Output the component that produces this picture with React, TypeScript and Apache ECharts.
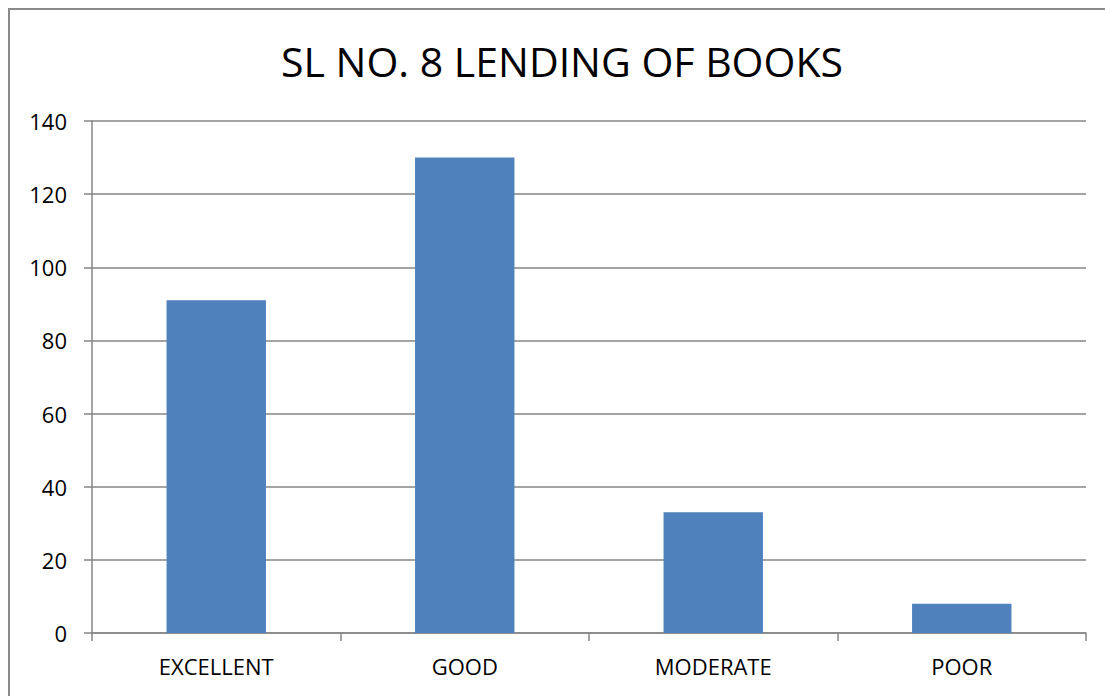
import React, { useEffect, useRef } from "react";
import * as echarts from "echarts";

const titleText = "SL NO. 8 LENDING OF BOOKS";
const categories = ["EXCELLENT", "GOOD", "MODERATE", "POOR"];
const values = [91, 130, 33, 8];
const yMin = 0;
const yMax = 140;
const yStep = 20;

export default function App() {
  const ref = useRef<HTMLDivElement>(null);
  useEffect(() => {
    if (!ref.current) return;
    const chart = echarts.init(ref.current, null, { renderer: "svg" });
    const font = "'Open Sans', 'Liberation Sans', sans-serif";
    chart.setOption({
      animation: false,
      backgroundColor: "#ffffff",
      textStyle: { fontFamily: font },
      graphic: [
        {
          type: "rect",
          shape: { x: 9, y: 9, width: 1200, height: 800 },
          style: { fill: "none", stroke: "#8a8a8a", lineWidth: 2 },
          silent: true,
        },
        {
          type: "text",
          x: 562,
          y: 61,
          style: {
            text: titleText,
            font: `41px ${font}`,
            fill: "#000000",
            textAlign: "center",
            textVerticalAlign: "middle",
          },
        },
      ],
      grid: { left: 92, right: 19, top: 121, bottom: 63, containLabel: false },
      xAxis: {
        type: "category",
        data: categories,
        boundaryGap: true,
        axisLine: { show: true, lineStyle: { color: "#868686", width: 1.5 } },
        axisTick: { show: true, length: 8, interval: 0, alignWithLabel: false, lineStyle: { color: "#868686", width: 1.5 } },
        axisLabel: { color: "#000000", fontSize: 22, fontFamily: font, margin: 22, interval: 0 },
        splitLine: { show: false },
      },
      yAxis: {
        type: "value",
        min: yMin,
        max: yMax,
        interval: yStep,
        axisLine: { show: true, lineStyle: { color: "#868686", width: 1.5 } },
        axisTick: { show: true, length: 8, lineStyle: { color: "#868686", width: 1.5 } },
        axisLabel: { color: "#000000", fontSize: 22, fontFamily: font, margin: 25 },
        splitLine: { show: true, lineStyle: { color: "#868686", width: 1.5 } },
      },
      series: [
        {
          type: "bar",
          data: values,
          barWidth: "40%",
          itemStyle: { color: "#4F81BD" },
        },
      ],
    });
    return () => chart.dispose();
  }, []);
  return (
    <div
      ref={ref}
      style={{ position: "absolute", left: 0, top: 0, width: 1105, height: 696 }}
    />
  );
}
